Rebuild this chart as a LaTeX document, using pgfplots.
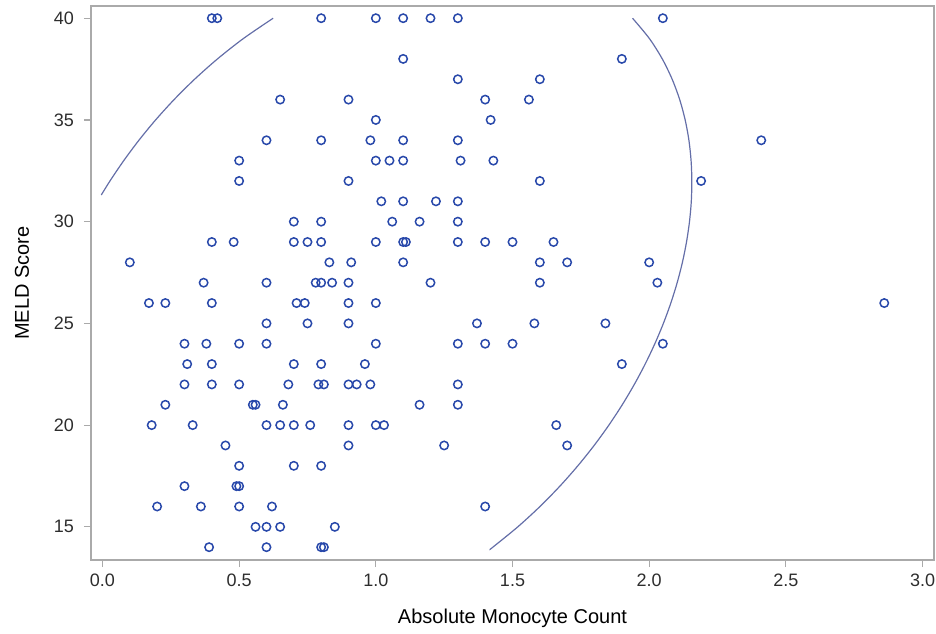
\documentclass[border=0pt]{standalone}
\usepackage{fontspec}
\setmainfont{Liberation Sans}
\usepackage{pgfplots}
\pgfplotsset{compat=1.18}
\definecolor{mk}{RGB}{40,72,170}
\definecolor{ell}{RGB}{100,110,168}
\definecolor{frm}{RGB}{170,170,170}
\definecolor{txt}{RGB}{45,45,45}
\begin{document}
\begin{tikzpicture}
\useasboundingbox (-45.5pt,-36.5pt) rectangle (422.5pt,280pt);
\begin{axis}[
  at={(0,0)}, anchor=south west,
  scale only axis, width=421.5pt, height=277pt,
  xmin=-0.042, xmax=3.042, ymin=13.37, ymax=40.6,
  xtick={0,0.5,1,1.5,2,2.5,3},
  ytick={15,20,25,30,35,40},
  tick align=outside, major tick length=3.5pt,
  tick style={frm, line width=0.6pt},
  axis line style={frm, line width=0.6pt},
  xtick pos=bottom, ytick pos=left,
  /pgf/number format/assume math mode=true,
  xticklabel style={font=\fontsize{9}{10}\selectfont, text=txt, /pgf/number format/.cd, fixed, fixed zerofill, precision=1},
  yticklabel style={font=\fontsize{9}{10}\selectfont, text=txt, xshift=-1.5pt},
  xlabel={Absolute Monocyte Count},
  ylabel={MELD Score},
  label style={font=\fontsize{10}{12}\selectfont, text=txt},
  every axis x label/.style={at={([yshift=-29pt]axis description cs:0.5,0)}, anchor=center},
  every axis y label/.style={at={([xshift=-34.5pt]axis description cs:0,0.5)}, anchor=center, rotate=90},
]
\addplot[only marks, mark=o, mark size=2.1pt, mark options={mk, line width=0.75pt}] table {
x y
0.40 40
0.42 40
0.80 40
1.00 40
1.10 40
1.20 40
1.30 40
2.05 40
1.10 38
1.90 38
1.30 37
1.60 37
0.65 36
0.90 36
1.40 36
1.56 36
1.00 35
1.42 35
0.60 34
0.80 34
0.98 34
1.10 34
1.30 34
2.41 34
0.50 33
1.00 33
1.05 33
1.10 33
1.31 33
1.43 33
0.50 32
0.90 32
1.60 32
2.19 32
1.02 31
1.10 31
1.22 31
1.30 31
0.70 30
0.80 30
1.06 30
1.16 30
1.30 30
0.40 29
0.48 29
0.70 29
0.75 29
0.80 29
1.00 29
1.10 29
1.11 29
1.30 29
1.40 29
1.50 29
1.65 29
0.10 28
0.83 28
0.91 28
1.10 28
1.60 28
1.70 28
2.00 28
0.37 27
0.60 27
0.78 27
0.80 27
0.84 27
0.90 27
1.20 27
1.60 27
2.03 27
0.17 26
0.23 26
0.40 26
0.71 26
0.74 26
0.90 26
1.00 26
2.86 26
0.60 25
0.75 25
0.90 25
1.37 25
1.58 25
1.84 25
0.30 24
0.38 24
0.50 24
0.60 24
1.00 24
1.30 24
1.40 24
1.50 24
2.05 24
0.31 23
0.40 23
0.70 23
0.80 23
0.96 23
1.90 23
0.30 22
0.40 22
0.50 22
0.68 22
0.79 22
0.81 22
0.90 22
0.93 22
0.98 22
1.30 22
0.23 21
0.55 21
0.56 21
0.66 21
1.16 21
1.30 21
0.18 20
0.33 20
0.60 20
0.65 20
0.70 20
0.76 20
0.90 20
1.00 20
1.03 20
1.66 20
0.45 19
0.90 19
1.25 19
1.70 19
0.50 18
0.70 18
0.80 18
0.30 17
0.49 17
0.50 17
0.20 16
0.36 16
0.50 16
0.62 16
1.40 16
0.56 15
0.60 15
0.65 15
0.85 15
0.39 14
0.60 14
0.80 14
0.81 14
};
\addplot[ell, line width=0.6pt, smooth, no markers] coordinates {
(-0.0044,31.31) (0.0274,32) (0.0778,33) (0.1332,34) (0.1944,35) (0.2620,36) (0.3370,37) (0.4208,38) (0.5154,39) (0.6244,40)
};
\addplot[ell, line width=0.6pt, smooth, no markers] coordinates {
(1.9392,40) (2.0008,39) (2.0479,38) (2.0841,37) (2.1116,36) (2.1317,35) (2.1454,34) (2.1533,33) (2.1561,32) (2.1541,31) (2.1475,30) (2.1366,29) (2.1216,28) (2.1024,27) (2.0792,26) (2.0520,25) (2.0207,24) (1.9853,23) (1.9456,22) (1.9015,21) (1.8526,20) (1.7986,19) (1.7390,18) (1.6733,17) (1.6005,16) (1.5194,15) (1.4281,14) (1.4173,13.89)
};
\end{axis}
\end{tikzpicture}
\end{document}
